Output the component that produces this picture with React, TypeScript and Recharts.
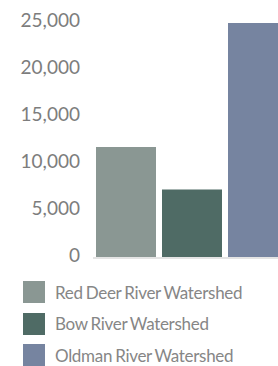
import React from "react";
import { Bar, BarChart, Cell, XAxis, YAxis } from "recharts";

const watersheds = ["Red Deer River Watershed", "Bow River Watershed", "Oldman River Watershed"];
const totals = [11800, 7300, 25000];
const colors = ["#8a9793", "#4f6b65", "#7684a0"];
const yTicks = [0, 5000, 10000, 15000, 20000, 25000];

const data = watersheds.map((name, i) => ({ name, total: totals[i] }));

const font = "Lato, 'Noto Sans', sans-serif";

const App = () => {
  return (
    <div style={{ position: "absolute", left: 0, top: 0, width: 278, height: 366, overflow: "hidden", fontFamily: font }}>
      <BarChart
        width={300}
        height={272}
        data={data}
        margin={{ top: 23, right: 9, bottom: 10, left: 0 }}
        barCategoryGap={3}
      >
        <XAxis dataKey="name" tick={false} tickLine={false} height={4} axisLine={{ stroke: "#e4e4e4", strokeWidth: 2 }} />
        <YAxis
          width={93}
          domain={[0, 25000]}
          ticks={yTicks}
          interval={0}
          axisLine={false}
          tickLine={false}
          tickSize={0}
          tickMargin={13}
          tick={{ fill: "#7d7d7d", fontSize: 19, fontFamily: font, dy: -3 }}
          tickFormatter={(v: number) => v.toLocaleString("en-US")}
        />
        <Bar dataKey="total" isAnimationActive={false}>
          {data.map((d, i) => (
            <Cell key={d.name} fill={colors[i]} />
          ))}
        </Bar>
      </BarChart>
      <div style={{ position: "absolute", left: 23, top: 281 }}>
        {watersheds.map((name, i) => (
          <div key={name} style={{ display: "flex", alignItems: "center", height: 22, marginBottom: 9.5 }}>
            <span style={{ width: 22, height: 22, background: colors[i], display: "inline-block" }} />
            <span style={{ marginLeft: 10, color: "#868686", fontSize: 17, letterSpacing: -0.3, wordSpacing: -1 }}>{name}</span>
          </div>
        ))}
      </div>
    </div>
  );
};

export default App;
